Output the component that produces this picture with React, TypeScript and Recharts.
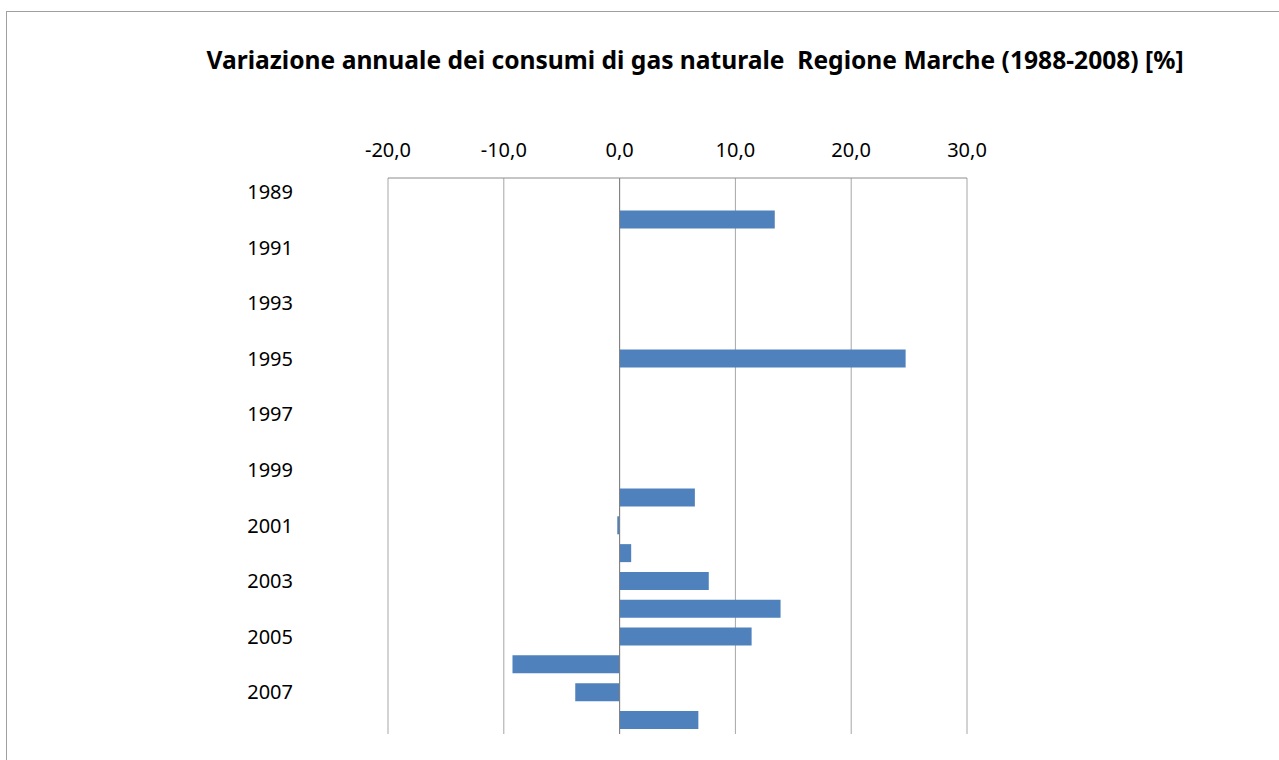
import React from 'react';
import { BarChart, Bar, XAxis, YAxis, CartesianGrid, ReferenceLine } from 'recharts';

const years: string[] = ['1989','1990','1991','1992','1993','1994','1995','1996','1997','1998','1999','2000','2001','2002','2003','2004','2005','2006','2007','2008'];
const variazione: (number | null)[] = [null, 13.4, null, null, null, null, 24.7, null, null, null, null, 6.5, -0.2, 1.0, 7.7, 13.9, 11.4, -9.25, -3.83, 6.8];
const xTicks: number[] = [-20, -10, 0, 10, 20, 30];
const title = 'Variazione annuale dei consumi di gas naturale  Regione Marche (1988-2008) [%]';

const data = years.map((y, i) => ({ year: y, value: variazione[i] }));

const FONT = '"Noto Sans", sans-serif';
const fmt = (v: number) => v.toFixed(1).replace('.', ',');

export default function App() {
  return (
    <div style={{ position: 'absolute', left: 0, top: 0, width: 1279, height: 760, background: '#fff', overflow: 'hidden' }}>
      <div style={{ position: 'absolute', left: 6, top: 11, width: 1300, height: 800, borderLeft: '1px solid #a0a0a0', borderTop: '1px solid #a0a0a0' }} />
      <div style={{ position: 'absolute', left: 0, width: 1390, top: 43, textAlign: 'center', fontFamily: FONT, fontWeight: 700, fontSize: 24.6, color: '#000', whiteSpace: 'pre', lineHeight: '34px' }}>
        {title}
      </div>
      <div style={{ position: 'absolute', left: 0, top: 0 }}>
        <BarChart
          width={1279}
          height={760}
          data={data}
          layout="vertical"
          margin={{ top: 138, right: 312, bottom: 26, left: 268 }}
          barCategoryGap="17%"
        >
          <CartesianGrid horizontal={false} vertical={true} stroke="#a6a6a6" />
          <XAxis
            type="number"
            orientation="top"
            domain={[-20, 30]}
            ticks={xTicks}
            tickFormatter={fmt}
            height={40}
            axisLine={{ stroke: '#8c8c8c' }}
            tickLine={false}
            tickSize={0}
            tickMargin={21}
            tick={{ fill: '#000', fontSize: 20, fontFamily: FONT }}
            interval={0}
            allowDataOverflow
          />
          <YAxis
            type="category"
            dataKey="year"
            width={120}
            axisLine={false}
            tickLine={false}
            tickSize={0}
            tickMargin={95}
            interval={1}
            tick={{ fill: '#000', fontSize: 20, fontFamily: FONT }}
          />
          <ReferenceLine x={0} stroke="#7f7f7f" strokeWidth={1} />
          <Bar dataKey="value" fill="#4f81bd" isAnimationActive={false} />
        </BarChart>
      </div>
    </div>
  );
}
